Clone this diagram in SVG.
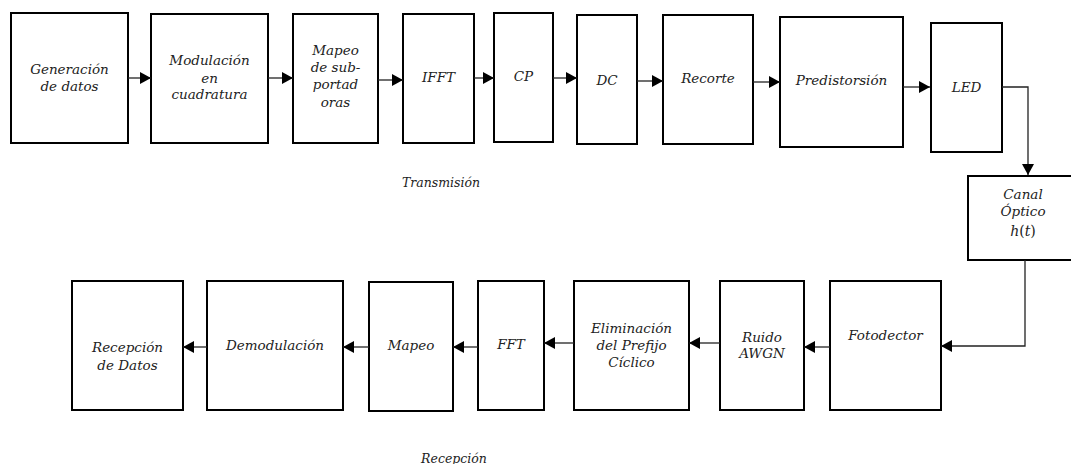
<svg xmlns="http://www.w3.org/2000/svg" width="1071" height="464" viewBox="0 0 1071 464">
  <defs>
    <marker id="arrow" markerUnits="userSpaceOnUse" markerWidth="11" markerHeight="12" refX="11" refY="6" orient="auto">
      <path d="M0,0 L11,6 L0,12 Z" fill="#000"/>
    </marker>
    <style>
      .box { fill: #fff; stroke: #000; stroke-width: 2; }
      .lbl { font-family: "DejaVu Serif", "Liberation Serif", serif; font-style: italic; font-size: 13.5px; fill: #222; text-anchor: middle; }
      .cap { font-family: "DejaVu Serif", "Liberation Serif", serif; font-style: italic; font-size: 12.5px; fill: #222; text-anchor: middle; }
      .math { font-family: "DejaVu Serif", "Liberation Serif", serif; font-size: 14px; fill: #222; text-anchor: middle; }
      .wire { fill: none; stroke: #222; stroke-width: 1.3; }
    </style>
  </defs>
  <rect width="1071" height="464" fill="#fff"/>

  <!-- Transmitter chain -->
  <g id="gen-datos">
    <rect class="box" x="11" y="13" width="117" height="130"/>
    <text class="lbl" x="69.5" y="74">Generación</text>
    <text class="lbl" x="69.5" y="91">de datos</text>
  </g>
  <g id="modulacion">
    <rect class="box" x="151" y="14" width="117" height="129"/>
    <text class="lbl" x="209.5" y="65">Modulación</text>
    <text class="lbl" x="209.5" y="83">en</text>
    <text class="lbl" x="209.5" y="99">cuadratura</text>
  </g>
  <g id="mapeo-tx">
    <rect class="box" x="293" y="14" width="85" height="129"/>
    <text class="lbl" x="335.5" y="55">Mapeo</text>
    <text class="lbl" x="335.5" y="72">de sub-</text>
    <text class="lbl" x="335.5" y="89">portad</text>
    <text class="lbl" x="335.5" y="107">oras</text>
  </g>
  <g id="ifft">
    <rect class="box" x="403" y="14" width="71" height="129"/>
    <text class="lbl" x="438.5" y="82">IFFT</text>
  </g>
  <g id="cp">
    <rect class="box" x="494" y="13" width="59" height="129"/>
    <text class="lbl" x="523.5" y="81">CP</text>
  </g>
  <g id="dc">
    <rect class="box" x="577" y="15" width="60" height="129"/>
    <text class="lbl" x="607" y="85">DC</text>
  </g>
  <g id="recorte">
    <rect class="box" x="663" y="15" width="90" height="129"/>
    <text class="lbl" x="708" y="83">Recorte</text>
  </g>
  <g id="predistorsion">
    <rect class="box" x="780" y="17" width="123" height="130"/>
    <text class="lbl" x="841.5" y="85">Predistorsión</text>
  </g>
  <g id="led">
    <rect class="box" x="931" y="23" width="71" height="129"/>
    <text class="lbl" x="966.5" y="92">LED</text>
  </g>

  <!-- Channel -->
  <g id="canal">
    <rect class="box" x="968" y="176" width="104" height="84"/>
    <text class="lbl" x="1023" y="199">Canal</text>
    <text class="lbl" x="1023" y="216">Óptico</text>
    <text class="math" x="1023" y="236"><tspan font-style="italic">h</tspan>(<tspan font-style="italic">t</tspan>)</text>
  </g>

  <!-- Receiver chain -->
  <g id="fotodector">
    <rect class="box" x="830" y="281" width="111" height="129"/>
    <text class="lbl" x="885.5" y="340">Fotodector</text>
  </g>
  <g id="ruido">
    <rect class="box" x="720" y="281" width="84" height="129"/>
    <text class="lbl" x="762" y="342">Ruido</text>
    <text class="lbl" x="762" y="358">AWGN</text>
  </g>
  <g id="elim-cp">
    <rect class="box" x="574" y="281" width="115" height="129"/>
    <text class="lbl" x="631.5" y="333">Eliminación</text>
    <text class="lbl" x="631.5" y="350">del Prefijo</text>
    <text class="lbl" x="631.5" y="367">Cíclico</text>
  </g>
  <g id="fft">
    <rect class="box" x="478" y="281" width="66" height="129"/>
    <text class="lbl" x="511" y="349">FFT</text>
  </g>
  <g id="mapeo-rx">
    <rect class="box" x="369" y="282" width="84" height="129"/>
    <text class="lbl" x="411" y="350">Mapeo</text>
  </g>
  <g id="demodulacion">
    <rect class="box" x="207" y="281" width="136" height="129"/>
    <text class="lbl" x="275" y="350">Demodulación</text>
  </g>
  <g id="recepcion-datos">
    <rect class="box" x="72" y="281" width="111" height="129"/>
    <text class="lbl" x="127.5" y="352">Recepción</text>
    <text class="lbl" x="127.5" y="370">de Datos</text>
  </g>

  <!-- Section captions -->
  <text class="cap" x="441" y="187">Transmisión</text>
  <text class="cap" x="454" y="463">Recepción</text>

  <!-- Connectors -->
  <g id="connectors">
    <path class="wire" marker-end="url(#arrow)" d="M128,78 H151"/>
    <path class="wire" marker-end="url(#arrow)" d="M268,78 H293"/>
    <path class="wire" marker-end="url(#arrow)" d="M378,80 H403"/>
    <path class="wire" marker-end="url(#arrow)" d="M474,78 H494"/>
    <path class="wire" marker-end="url(#arrow)" d="M553,78 H577"/>
    <path class="wire" marker-end="url(#arrow)" d="M637,81 H663"/>
    <path class="wire" marker-end="url(#arrow)" d="M753,82 H780"/>
    <path class="wire" marker-end="url(#arrow)" d="M903,87 H930"/>
    <path class="wire" marker-end="url(#arrow)" d="M1002,87 H1028 V175"/>
    <path class="wire" marker-end="url(#arrow)" d="M1025,260 V346 H941"/>
    <path class="wire" marker-end="url(#arrow)" d="M830,347 H804"/>
    <path class="wire" marker-end="url(#arrow)" d="M720,343 H689"/>
    <path class="wire" marker-end="url(#arrow)" d="M574,343 H544"/>
    <path class="wire" marker-end="url(#arrow)" d="M478,347 H453"/>
    <path class="wire" marker-end="url(#arrow)" d="M369,347 H343"/>
    <path class="wire" marker-end="url(#arrow)" d="M207,347 H183"/>
  </g>
</svg>
